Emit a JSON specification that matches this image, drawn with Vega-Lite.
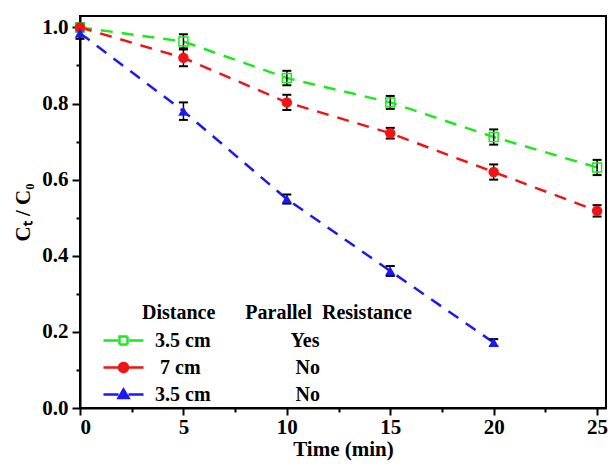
{
  "$schema": "https://vega.github.io/schema/vega-lite/v6.json",
  "width": 526,
  "height": 392,
  "padding": {"left": 12, "top": 16, "right": 2, "bottom": 2},
  "background": "white",
  "config": {
    "view": {"stroke": "black", "strokeWidth": 2},
    "font": "Times New Roman, Liberation Serif, serif",
    "axis": {
      "labelFont": "Times New Roman, Liberation Serif, serif", "labelFontSize": 21, "labelFontWeight": "bold", "labelColor": "black",
      "titleFont": "Times New Roman, Liberation Serif, serif", "titleFontSize": 21, "titleFontWeight": "bold", "titleColor": "black",
      "domainColor": "black", "domainWidth": 2, "tickColor": "black", "tickWidth": 2, "grid": false
    }
  },
  "data": {"values": [
    {"s": "g", "t": 0, "v": 1.0, "lo": 0.99, "hi": 1.01},
    {"s": "g", "t": 5, "v": 0.963, "lo": 0.945, "hi": 0.982},
    {"s": "g", "t": 10, "v": 0.867, "lo": 0.848, "hi": 0.886},
    {"s": "g", "t": 15, "v": 0.803, "lo": 0.786, "hi": 0.82},
    {"s": "g", "t": 20, "v": 0.712, "lo": 0.692, "hi": 0.732},
    {"s": "g", "t": 25, "v": 0.632, "lo": 0.612, "hi": 0.652},
    {"s": "r", "t": 0, "v": 1.0, "lo": 0.99, "hi": 1.01},
    {"s": "r", "t": 5, "v": 0.92, "lo": 0.898, "hi": 0.942},
    {"s": "r", "t": 10, "v": 0.803, "lo": 0.783, "hi": 0.823},
    {"s": "r", "t": 15, "v": 0.722, "lo": 0.708, "hi": 0.736},
    {"s": "r", "t": 20, "v": 0.62, "lo": 0.6, "hi": 0.64},
    {"s": "r", "t": 25, "v": 0.518, "lo": 0.503, "hi": 0.533},
    {"s": "b", "t": 0, "v": 0.985, "lo": 0.97, "hi": 1.0},
    {"s": "b", "t": 5, "v": 0.78, "lo": 0.757, "hi": 0.803},
    {"s": "b", "t": 10, "v": 0.549, "lo": 0.537, "hi": 0.561},
    {"s": "b", "t": 15, "v": 0.36, "lo": 0.347, "hi": 0.373},
    {"s": "b", "t": 20, "v": 0.172, "lo": 0.163, "hi": 0.181}
  ]},
  "layer": [
    {
      "mark": {"type": "line", "strokeDash": [12, 9], "strokeWidth": 2.5},
      "encoding": {
        "x": {"field": "t", "type": "quantitative", "scale": {"domain": [0, 25.43], "nice": false, "zero": false},
          "axis": {"orient": "bottom", "values": [0, 5, 10, 15, 20, 25], "tickSize": 7, "labelPadding": 1, "title": "Time (min)", "titlePadding": 1}},
        "y": {"field": "v", "type": "quantitative", "scale": {"domain": [0, 1.03], "nice": false},
          "axis": {"orient": "left", "values": [0, 0.2, 0.4, 0.6, 0.8, 1.0], "format": ".1f", "tickSize": 8, "labelPadding": 4, "title": "C\u209c / C\u2080", "titlePadding": 8}},
        "color": {"field": "s", "type": "nominal",
          "scale": {"domain": ["g", "r", "b"], "range": ["#1ee81e", "#f01414", "#1a1af0"]},
          "legend": {
            "orient": "none", "legendX": 32, "legendY": 287, "padding": 0,
            "title": "\u200b\u00a0\u00a0\u00a0\u00a0\u00a0\u00a0Distance\u00a0\u00a0\u00a0\u00a0\u00a0\u00a0Parallel\u00a0\u00a0Resistance",
            "titleFont": "Times New Roman, Liberation Serif, serif", "titleFontSize": 20, "titleFontWeight": "bold", "titleColor": "black", "titleLimit": 1000, "titlePadding": 6,
            "labelFont": "Times New Roman, Liberation Serif, serif", "labelFontSize": 20, "labelFontWeight": "bold", "labelColor": "black", "labelLimit": 1000, "labelOffset": 20,
            "symbolSize": 400, "symbolStrokeWidth": 2.5, "rowPadding": 5,
            "labelExpr": "datum.value === 'g' ? '3.5 cm\u00a0\u00a0\u00a0\u00a0\u00a0\u00a0\u00a0\u00a0\u00a0\u00a0\u00a0\u00a0\u00a0\u00a0\u00a0\u00a0Yes' : datum.value === 'r' ? '\u200b\u00a07 cm\u00a0\u00a0\u00a0\u00a0\u00a0\u00a0\u00a0\u00a0\u00a0\u00a0\u00a0\u00a0\u00a0\u00a0\u00a0\u00a0\u00a0\u00a0\u00a0No' : '3.5 cm\u00a0\u00a0\u00a0\u00a0\u00a0\u00a0\u00a0\u00a0\u00a0\u00a0\u00a0\u00a0\u00a0\u00a0\u00a0\u00a0\u00a0No'",
            "encode": {"symbols": {"update": {
              "shape": {"signal": "datum.value === 'g' ? 'M-2,0H-0.55M0.55,0H2M-0.4,-0.4H0.4V0.4H-0.4Z' : datum.value === 'r' ? 'M-2,0H-0.5M0.5,0H2M0.45,0A0.45,0.45,0,1,1,-0.45,0A0.45,0.45,0,1,1,0.45,0Z' : 'M-2,0H-0.5M0.5,0H2M0,-0.5L0.5,0.35L-0.5,0.35Z'"},
              "fill": {"signal": "datum.value === 'g' ? 'transparent' : datum.value === 'r' ? '#f01414' : '#1a1af0'"},
              "strokeDash": {"value": [1, 0]}
            }}}
          }}
      }
    },
    {
      "mark": {"type": "rule", "color": "black", "strokeWidth": 1.5},
      "encoding": {
        "x": {"field": "t", "type": "quantitative", "axis": null},
        "y": {"field": "lo", "type": "quantitative", "axis": null},
        "y2": {"field": "hi"}
      }
    },
    {
      "mark": {"type": "tick", "orient": "horizontal", "color": "black", "size": 9, "thickness": 2, "opacity": 1},
      "encoding": {
        "x": {"field": "t", "type": "quantitative", "axis": null},
        "y": {"field": "lo", "type": "quantitative", "axis": null}
      }
    },
    {
      "mark": {"type": "tick", "orient": "horizontal", "color": "black", "size": 9, "thickness": 2, "opacity": 1},
      "encoding": {
        "x": {"field": "t", "type": "quantitative", "axis": null},
        "y": {"field": "hi", "type": "quantitative", "axis": null}
      }
    },
    {
      "transform": [{"filter": "datum.s === 'g'"}],
      "mark": {"type": "point", "shape": "square", "filled": false, "fill": "transparent", "stroke": "#1ee81e", "size": 80, "strokeWidth": 1.5, "opacity": 1},
      "encoding": {
        "x": {"field": "t", "type": "quantitative",
          "axis": {"orient": "bottom", "values": [2.5, 7.5, 12.5, 17.5, 22.5], "labels": false, "domain": false, "tickSize": 4, "title": null}},
        "y": {"field": "v", "type": "quantitative",
          "axis": {"orient": "left", "values": [0.1, 0.3, 0.5, 0.7, 0.9], "labels": false, "domain": false, "tickSize": 4, "title": null}}
      }
    },
    {
      "transform": [{"filter": "datum.s === 'r'"}],
      "mark": {"type": "point", "shape": "circle", "filled": true, "color": "#f01414", "size": 110, "opacity": 1},
      "encoding": {
        "x": {"field": "t", "type": "quantitative", "axis": null},
        "y": {"field": "v", "type": "quantitative", "axis": null}
      }
    },
    {
      "transform": [{"filter": "datum.s === 'b'"}],
      "mark": {"type": "point", "shape": "triangle-up", "filled": true, "color": "#1a1af0", "size": 110, "opacity": 1},
      "encoding": {
        "x": {"field": "t", "type": "quantitative", "axis": null},
        "y": {"field": "v", "type": "quantitative", "axis": null}
      }
    }
  ],
  "resolve": {"axis": {"x": "independent", "y": "independent"}}
}
